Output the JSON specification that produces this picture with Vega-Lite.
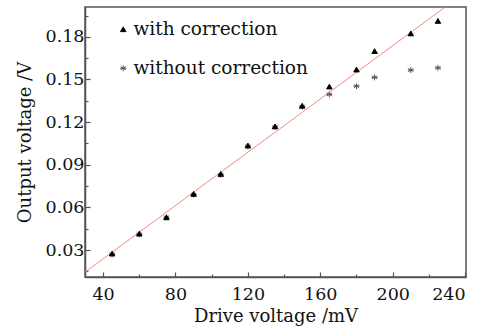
{
  "$schema": "https://vega.github.io/schema/vega-lite/v6.json",
  "width": 381,
  "height": 270,
  "autosize": {"type": "none"},
  "padding": {"left": 85, "top": 7, "right": 33, "bottom": 53},
  "background": "white",
  "config": {
    "view": {"stroke": "#555555", "strokeWidth": 1.5},
    "font": "DejaVu Serif",
    "axis": {
      "titleFont": "DejaVu Serif", "titleFontSize": 18, "titleFontWeight": "normal", "titleColor": "#111",
      "labelFont": "DejaVu Serif", "labelFontSize": 17.5, "labelColor": "#111",
      "tickColor": "#555555", "tickWidth": 1.2,
      "domainColor": "#555555", "domainWidth": 1.5,
      "grid": false, "labelOverlap": false
    },
    "legend": {
      "orient": "none", "legendX": 29, "legendY": 13, "title": null,
      "labelFont": "DejaVu Serif", "labelFontSize": 18.5, "labelColor": "#111",
      "labelLimit": 400,
      "rowPadding": 20, "labelOffset": 1, "symbolStrokeWidth": 1
    }
  },
  "datasets": {
    "pts": [
      {"drive": 45, "out": 0.027, "series": "without correction"},
      {"drive": 60, "out": 0.041, "series": "without correction"},
      {"drive": 75, "out": 0.053, "series": "without correction"},
      {"drive": 90, "out": 0.069, "series": "without correction"},
      {"drive": 105, "out": 0.083, "series": "without correction"},
      {"drive": 120, "out": 0.103, "series": "without correction"},
      {"drive": 135, "out": 0.1165, "series": "without correction"},
      {"drive": 150, "out": 0.131, "series": "without correction"},
      {"drive": 165, "out": 0.1395, "series": "without correction"},
      {"drive": 180, "out": 0.1453, "series": "without correction"},
      {"drive": 190, "out": 0.1515, "series": "without correction"},
      {"drive": 210, "out": 0.1566, "series": "without correction"},
      {"drive": 225, "out": 0.1582, "series": "without correction"},
      {"drive": 45, "out": 0.0275, "series": "with correction"},
      {"drive": 60, "out": 0.0415, "series": "with correction"},
      {"drive": 75, "out": 0.053, "series": "with correction"},
      {"drive": 90, "out": 0.0695, "series": "with correction"},
      {"drive": 105, "out": 0.0835, "series": "with correction"},
      {"drive": 120, "out": 0.1035, "series": "with correction"},
      {"drive": 135, "out": 0.117, "series": "with correction"},
      {"drive": 150, "out": 0.1315, "series": "with correction"},
      {"drive": 165, "out": 0.145, "series": "with correction"},
      {"drive": 180, "out": 0.157, "series": "with correction"},
      {"drive": 190, "out": 0.17, "series": "with correction"},
      {"drive": 210, "out": 0.1824, "series": "with correction"},
      {"drive": 225, "out": 0.1912, "series": "with correction"}
    ],
    "fit": [
      {"drive": 30, "out": 0.0144},
      {"drive": 228.7, "out": 0.2007}
    ]
  },
  "resolve": {"axis": {"x": "independent", "y": "independent"}},
  "layer": [
    {
      "data": {"name": "fit"},
      "mark": {"type": "line", "color": "#f08a78", "strokeWidth": 1, "clip": true},
      "encoding": {
        "x": {
          "field": "drive", "type": "quantitative",
          "scale": {"domain": [30, 240.5], "nice": false, "zero": false},
          "axis": {
            "orient": "bottom",
            "values": [60, 100, 140, 180, 220],
            "labels": false, "domain": false, "title": null,
            "tickSize": -3
          }
        },
        "y": {
          "field": "out", "type": "quantitative",
          "scale": {"domain": [0.011, 0.201], "nice": false, "zero": false},
          "axis": {
            "orient": "left",
            "values": [0.015, 0.045, 0.075, 0.105, 0.135, 0.165, 0.195],
            "labels": false, "domain": false, "title": null,
            "tickSize": -3
          }
        }
      }
    },
    {
      "data": {"name": "pts"},
      "mark": {"type": "point", "filled": false, "strokeWidth": 1, "opacity": 1},
      "encoding": {
        "x": {
          "field": "drive", "type": "quantitative",
          "scale": {"domain": [30, 240.5], "nice": false, "zero": false},
          "axis": {
            "orient": "bottom",
            "values": [40, 80, 120, 160, 200, 240],
            "title": "Drive voltage /mV",
            "titlePadding": 5,
            "labelPadding": 13,
            "tickSize": -5
          }
        },
        "y": {
          "field": "out", "type": "quantitative",
          "scale": {"domain": [0.011, 0.201], "nice": false, "zero": false},
          "axis": {
            "orient": "left",
            "values": [0.03, 0.06, 0.09, 0.12, 0.15, 0.18],
            "format": ".2f",
            "title": "Output voltage /V",
            "titlePadding": 11,
            "labelPadding": 6,
            "tickSize": -5
          }
        },
        "shape": {
          "field": "series", "type": "nominal",
          "scale": {
            "domain": ["with correction", "without correction"],
            "range": ["triangle-up", "M0,-1L0,1M-0.87,-0.5L0.87,0.5M-0.87,0.5L0.87,-0.5M-1,0L1,0"]
          }
        },
        "color": {
          "field": "series", "type": "nominal",
          "scale": {"domain": ["with correction", "without correction"], "range": ["#000000", "#555555"]}
        },
        "fill": {
          "field": "series", "type": "nominal",
          "scale": {"domain": ["with correction", "without correction"], "range": ["#000000", "transparent"]}
        },
        "size": {
          "field": "series", "type": "nominal",
          "scale": {"domain": ["with correction", "without correction"], "range": [30, 36]}
        },
        "order": {"field": "series", "sort": "descending"}
      }
    }
  ]
}
